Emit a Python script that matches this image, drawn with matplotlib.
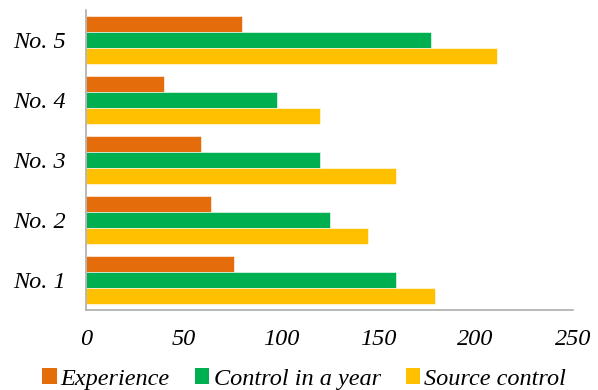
import matplotlib
matplotlib.use("Agg")
import matplotlib.pyplot as plt
import numpy as np
from matplotlib.patches import Patch

categories = ["No. 1", "No. 2", "No. 3", "No. 4", "No. 5"]
experience = [76, 64, 59, 40, 80]
control_in_year = [159, 125, 120, 98, 177]
source_control = [179, 145, 159, 120, 211]
x_ticks = [0, 50, 100, 150, 200, 250]

series = [
    ("Experience", experience, "#E46C0A"),
    ("Control in a year", control_in_year, "#00B050"),
    ("Source control", source_control, "#FFC000"),
]

plt.rcParams["font.family"] = ["Liberation Serif", "DejaVu Serif"]
plt.rcParams["font.style"] = "italic"

W, H = 598, 390
fig = plt.figure(figsize=(W / 100, H / 100), dpi=100)
ax = fig.add_axes([86.5 / W, 1 - 309.5 / H, (572.7 - 86.5) / W, (309.5 - 10.5) / H])

y = np.arange(len(categories))
h = 0.8 / 3
# first series sits on top within each group
offsets = [h, 0, -h]
for (name, vals, color), off in zip(series, offsets):
    ax.barh(y + off, vals, height=h, color=color, edgecolor="white",
            linewidth=0.4, label=name)

ax.set_xlim(0, 250)
ax.set_ylim(-0.5, len(categories) - 0.5)
ax.set_xticks(x_ticks)
ax.set_xticklabels([str(t) for t in x_ticks], fontsize=17.5, style="italic")
ax.set_yticks(y)
ax.set_yticklabels(categories, fontsize=17.5, style="italic")
ax.tick_params(axis="x", length=0, pad=14)
ax.tick_params(axis="y", length=0, pad=15)

for s in ["top", "right"]:
    ax.spines[s].set_visible(False)
for s in ["left", "bottom"]:
    ax.spines[s].set_color("#A6A6A6")
    ax.spines[s].set_linewidth(1.1)

handles = [Patch(facecolor=c, edgecolor="none", label=n) for n, _, c in series]
fig.legend(handles=handles, loc="center", bbox_to_anchor=(0.509, 1 - 379 / H),
           ncol=3, frameon=False, fontsize=17.5, handlelength=0.58,
           handleheight=0.58, handletextpad=0.17, columnspacing=1.05,
           borderpad=0, borderaxespad=0)

fig.savefig("out.png", dpi=100)
